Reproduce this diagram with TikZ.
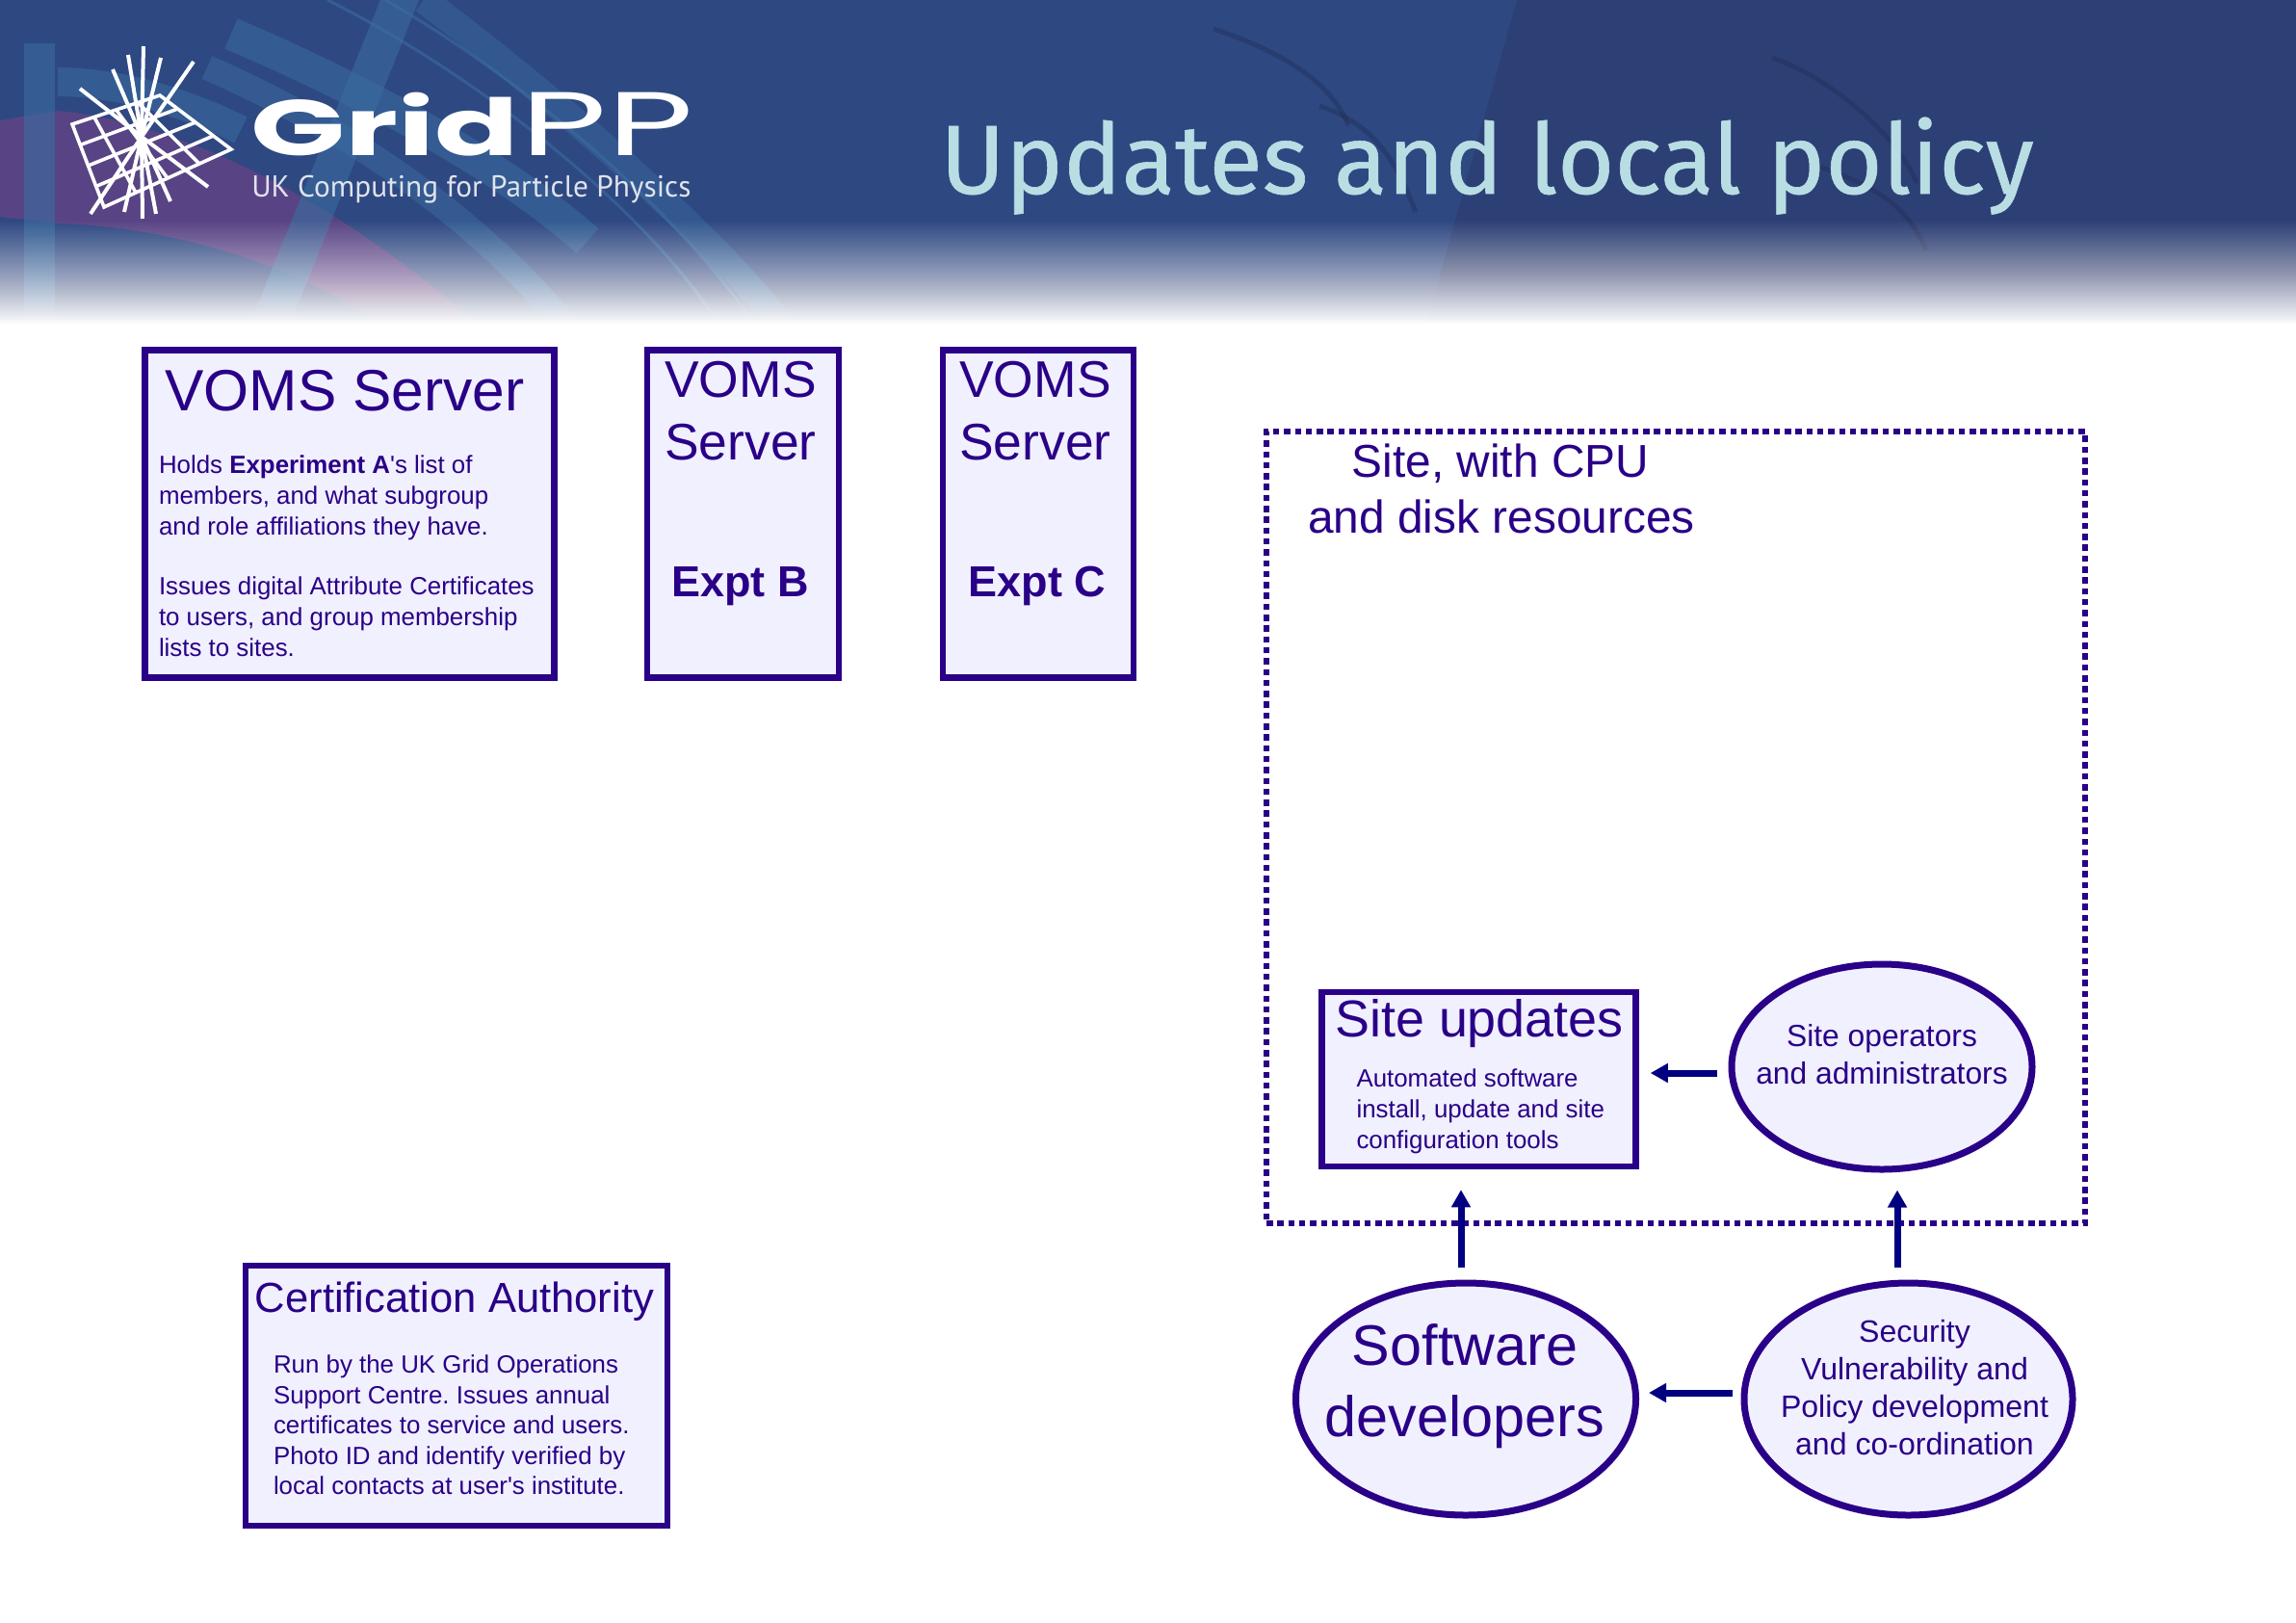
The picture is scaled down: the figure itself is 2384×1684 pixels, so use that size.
\documentclass[tikz,border=0pt]{standalone}
\usepackage{fontspec}
\usetikzlibrary{shapes.geometric,arrows.meta,calc}
\setmainfont{Liberation Sans}
\newfontfamily\titlefont[FakeBold=0.6]{Fira Sans}
\newfontfamily\logofont{PT Sans}
\newfontfamily\logobold{Poppins}
\definecolor{ink}{RGB}{41,0,135}
\definecolor{arrowink}{RGB}{0,0,128}
\definecolor{pale}{RGB}{241,240,255}
\definecolor{navy}{RGB}{46,72,130}
\definecolor{darknavy}{RGB}{45,64,118}
\definecolor{band}{RGB}{58,108,160}
\definecolor{plum}{RGB}{88,68,132}
\definecolor{titlecol}{RGB}{184,222,228}
\newcommand{\fsz}[2]{\fontsize{#1}{#2}\selectfont}
\tikzset{
  pane/.style={draw=ink,fill=pale,line width=6.5*0.025cm,rectangle,inner sep=0pt,minimum width=#1},
  oval/.style={draw=ink,fill=pale,line width=7*0.025cm,ellipse,inner sep=0pt},
  label/.style={text=ink,inner sep=0pt,outer sep=0pt},
  arr/.style={draw=arrowink,line width=7*0.025cm,-{Triangle[length=18*0.025cm,width=19*0.025cm]}},
  ray/.style={white,line width=4*0.025cm},
  gridl/.style={white,line width=3.6*0.025cm},
  bandl/.style={band,opacity=.6},
}
\begin{document}
\begin{tikzpicture}[x=0.025cm,y=-0.025cm]
\useasboundingbox (0,0) rectangle (2384,1684);
\fill[white] (0,0) rectangle (2384,1684);
% header
\begin{scope}
\clip (0,0) rectangle (2384,340);
\fill[navy] (0,0) rectangle (2384,340);
\fill[darknavy] (1575,0) -- (2384,0) -- (2384,340) -- (1480,340) -- cycle;
\fill[plum] (60,115) .. controls (170,125) and (330,190) .. (500,340) -- (400,340) .. controls (300,270) and (170,235) .. (60,232) -- cycle;
\fill[plum] (0,125) -- (60,115) -- (60,232) -- (0,225) -- cycle;
\fill[bandl] (395,0) -- (435,0) -- (300,340) -- (258,340) -- cycle;
\fill[bandl] (25,45) -- (57,45) -- (57,340) -- (25,340) -- cycle;
\draw[band,line width=34*0.025cm,opacity=.55] (240,35) .. controls (370,90) and (520,170) .. (610,250);
\draw[band,line width=26*0.025cm,opacity=.5] (215,70) .. controls (350,130) and (480,210) .. (590,340);
\draw[band,line width=30*0.025cm,opacity=.55] (60,85) .. controls (120,85) and (190,105) .. (250,135);
\draw[band,line width=28*0.025cm,opacity=.45] (440,0) .. controls (560,90) and (740,240) .. (830,360);
\draw[band,line width=3*0.025cm,opacity=.6] (340,0) .. controls (500,80) and (690,230) .. (760,360);
\draw[band,line width=3*0.025cm,opacity=.6] (400,0) .. controls (540,80) and (710,220) .. (800,360);
\foreach \a/\b/\c/\d in {1260/30/1400/130,1370/110/1470/220,1840/60/1990/190,1880/170/2000/260}{
  \draw[darknavy!70!black,line width=5*0.025cm,opacity=.4] (\a,\b) .. controls ({\a+60},{\b+20}) and ({\c-20},{\d-50}) .. (\c,\d);
}
\foreach \k in {0,...,53}{
  \pgfmathsetmacro{\op}{1/(54-\k)}
  \pgfmathsetmacro{\yy}{230+2*\k}
  \fill[white,opacity=\op] (0,\yy) rectangle (2384,340);
}
\end{scope}
\fill[white] (0,336) rectangle (2384,346);
% logo
\coordinate (gl) at (75,129); \coordinate (gt) at (166,99);
\coordinate (gr) at (240,155); \coordinate (gb) at (108,215);
\draw[gridl,line join=miter] (gl)--(gt)--(gr)--(gb)--cycle;
\foreach \t in {0.25,0.5,0.75}{
  \draw[gridl] ($(gl)!\t!(gb)$) -- ($(gt)!\t!(gr)$);
  \draw[gridl] ($(gl)!\t!(gt)$) -- ($(gb)!\t!(gr)$);
}
\coordinate (hub) at (147,142);
\foreach \x/\y in {149/48,133/57,117/72,167/60,201/64,83/92,216/194,177/209,162/222,148/227,129/220,94/222}{
  \draw[ray] (hub) -- (\x,\y);
}
\node[anchor=base west,inner sep=0pt,text=white] (logoa) at (260,161) {\resizebox{198pt}{46.5pt}{\logobold\bfseries Grid}};
\node[anchor=base west,inner sep=0pt,text=white] (logob) at (540,161) {\resizebox{128pt}{46.5pt}{\logobold PP}};
\node[anchor=base west,inner sep=0pt,text=white!85!navy] (logoc) at (261,204) {\logofont\fsz{22.3}{26}UK Computing for Particle Physics};
\node[anchor=base west,inner sep=0pt,text=titlecol] (title) at (976,201) {\titlefont\fsz{72.3}{80}Updates and local policy};
% VOMS boxes
\node[pane=425*0.025cm,minimum height=340*0.025cm] (va) at (363,533.5) {};
\node[pane=199*0.025cm,minimum height=340*0.025cm] (vb) at (771.5,533.5) {};
\node[pane=198*0.025cm,minimum height=340*0.025cm] (vc) at (1078,533.5) {};
\node[label,anchor=base,font=\fsz{43}{50}] (vat) at (358,426) {VOMS Server};
\node[label,anchor=north west,align=left,font=\fsz{18.4}{22.8}] (vad) at (165,473) {Holds \textbf{Experiment A}\textquotesingle s list of\\members, and what subgroup\\and role affiliations they have.};
\node[label,anchor=north west,align=left,font=\fsz{18.4}{22.8}] (vae) at (165,599) {Issues digital Attribute Certificates\\to users, and group membership\\lists to sites.};
\node[label,anchor=north,align=center,font=\fsz{38}{46}] (vbt) at (769,375) {VOMS\\Server};
\node[label,anchor=north,align=center,font=\fsz{38}{46}] (vct) at (1075,375) {VOMS\\Server};
\node[label,anchor=base,font=\fsz{32}{38}] (vbe) at (768.5,619.5) {\textbf{Expt B}};
\node[label,anchor=base,font=\fsz{32}{38}] (vce) at (1077,619.5) {\textbf{Expt C}};
% certification authority
\node[pane=438*0.025cm,minimum height=270*0.025cm] (ca) at (474,1449) {};
\node[label,anchor=base,font=\fsz{31}{38}] (cat) at (472,1362.5) {Certification Authority};
\node[label,anchor=north west,align=left,font=\fsz{18.4}{22.4}] (cad) at (284,1407) {Run by the UK Grid Operations\\Support Centre.\ Issues annual\\certificates to service and users.\\Photo ID and identify verified by\\local contacts at user\textquotesingle s institute.};
% site
\node[draw=ink,line width=6.5*0.025cm,dash pattern=on 6.5*0.025cm off 4.8*0.025cm,inner sep=0pt,minimum width=850*0.025cm,minimum height=822*0.025cm] (site) at (1740,859) {};
\node[label,anchor=base,font=\fsz{34}{41}] (st1) at (1558,495) {Site, with CPU};
\node[label,anchor=base,font=\fsz{34}{41}] (st2) at (1559,553) {and disk resources};
\node[pane=326*0.025cm,minimum height=181*0.025cm] (su) at (1535.5,1120.5) {};
\node[label,anchor=base,font=\fsz{38.3}{43}] (sut) at (1536,1076.5) {Site updates};
\node[label,anchor=north west,align=left,font=\fsz{18.4}{22.8}] (sud) at (1408.5,1110) {Automated software\\install, update and site\\configuration tools};
\node[oval,minimum width=312*0.025cm,minimum height=213*0.025cm] (op) at (1954,1107.5) {};
\node[label,anchor=north,align=center,font=\fsz{22.6}{28}] (opt) at (1954,1063) {Site operators\\and administrators};
\node[oval,minimum width=353*0.025cm,minimum height=241*0.025cm] (sw) at (1522,1452.5) {};
\node[label,anchor=north,align=center,font=\fsz{42.2}{52}] (swt) at (1521,1375) {Software\\developers};
\node[oval,minimum width=341*0.025cm,minimum height=241*0.025cm] (sec) at (1981.5,1452.5) {};
\node[label,anchor=north,align=center,font=\fsz{22.8}{27.8}] (sect) at (1988,1370) {Security\\Vulnerability and\\Policy development\\and co-ordination};
% arrows
\draw[arr,shorten <=12*0.025cm,shorten >=12*0.025cm] (op.west |- 0,1114) -- (su.east |- 0,1114);
\draw[arr,shorten <=9*0.025cm,shorten >=10*0.025cm] (sec.west |- 0,1446) -- (sw.east |- 0,1446);
\draw[arr,shorten <=13*0.025cm,shorten >=21*0.025cm] (sw.north -| 1517,0) -- (su.south -| 1517,0);
\draw[arr,shorten <=13*0.025cm,shorten >=18*0.025cm] (sec.north -| 1970,0) -- (op.south -| 1970,0);
\end{tikzpicture}
\end{document}
